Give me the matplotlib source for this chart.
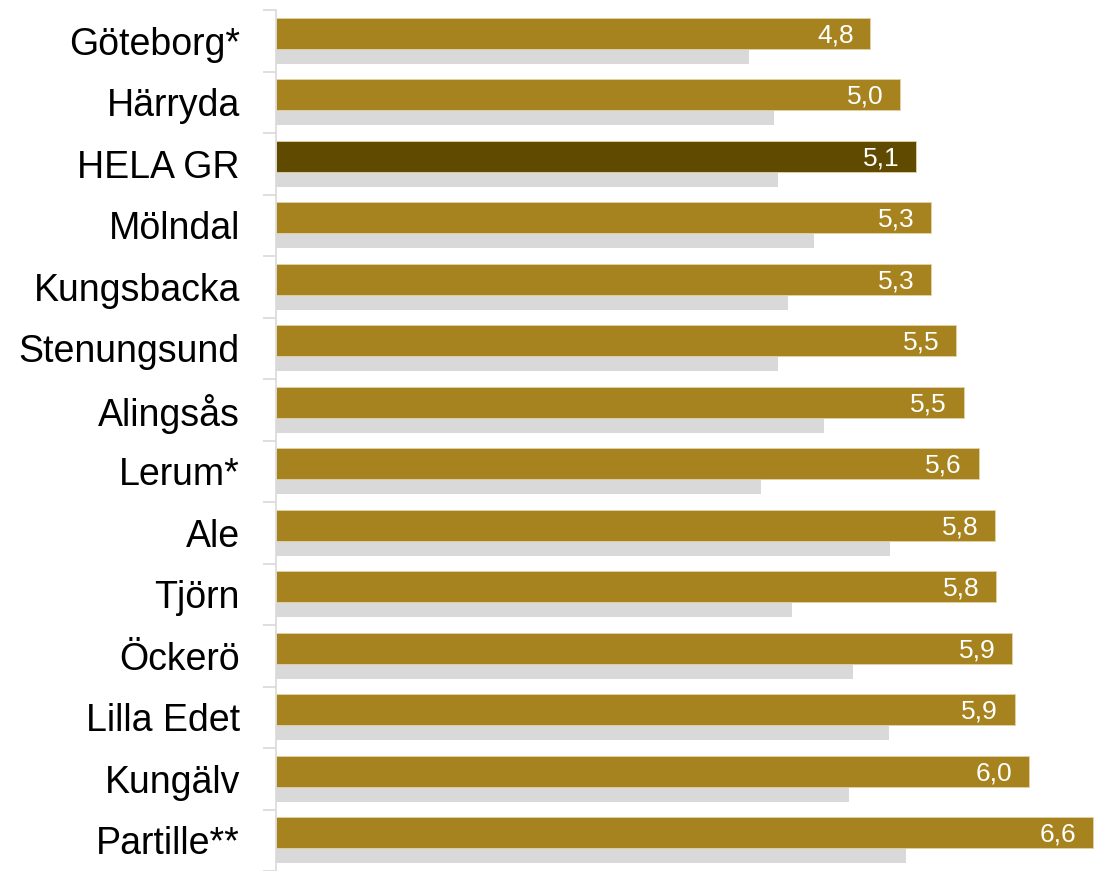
import matplotlib.pyplot as plt
import numpy as np

kommuner = ["Göteborg*", "Härryda", "HELA GR", "Mölndal", "Kungsbacka",
            "Stenungsund", "Alingsås", "Lerum*", "Ale", "Tjörn", "Öckerö",
            "Lilla Edet", "Kungälv", "Partille**"]
varde = [4.77, 5.01, 5.14, 5.26, 5.26, 5.46, 5.52, 5.64, 5.77, 5.78,
         5.91, 5.93, 6.04, 6.56]
jamforelse = [3.80, 4.00, 4.03, 4.32, 4.11, 4.03, 4.40, 3.89, 4.93, 4.14,
              4.63, 4.92, 4.60, 5.06]

GULD = "#A6831E"
MORK = "#5F4A00"
GRA = "#D9D9D9"

plt.rcParams["font.family"] = ["Liberation Sans", "DejaVu Sans"]

fig = plt.figure(figsize=(10.94, 8.71), dpi=100)
ax = fig.add_axes([276 / 1094, 0, 1 - 276 / 1094, 1 - 10 / 871])

y = np.arange(len(kommuner))
farger = [MORK if k == "HELA GR" else GULD for k in kommuner]

ax.barh(y + 0.123, jamforelse, height=0.5, color=GRA, zorder=1)
ax.barh(y - 0.12, varde, height=0.502, color=farger,
        edgecolor="#E3D3A8", linewidth=0.6, zorder=2)

# värdeetiketter inne i staplarnas högra ände
for yi, v in zip(y, varde):
    ax.text(v - 0.135, yi - 0.09, f"{v:.1f}".replace(".", ","),
            color="white", fontsize=19, ha="right", va="center", zorder=3)

ax.set_xlim(0, 818 / 124.6)
ax.set_ylim(-0.5 + 861 / 61.85, -0.5)

ax.set_yticks(y)
ax.set_yticklabels(kommuner, fontsize=27)
ax.set_yticks(np.arange(len(kommuner) + 1) - 0.5, minor=True)
ax.tick_params(axis="y", which="major", length=0, pad=26)
ax.tick_params(axis="y", which="minor", length=9.5, width=1.2, color=GRA)
ax.set_xticks([])

for s in ["top", "right", "bottom"]:
    ax.spines[s].set_visible(False)
ax.spines["left"].set_color(GRA)
ax.spines["left"].set_linewidth(1.2)

fig.savefig("out.png", dpi=100)
